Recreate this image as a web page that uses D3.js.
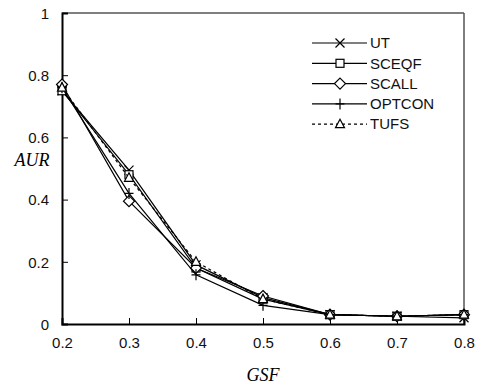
<!DOCTYPE html>
<html>
<head>
<meta charset="utf-8">
<script src="https://cdn.jsdelivr.net/npm/d3@7"></script>
<style>
  body { margin: 0; background: #fff; }
</style>
</head>
<body>
<div id="viz"></div>
<script>
// GSF values on the x axis
const gsf = [0.2, 0.3, 0.4, 0.5, 0.6, 0.7, 0.8];
const seriesNames = ["UT", "SCEQF", "SCALL", "OPTCON", "TUFS"];
const utValues     = [0.75, 0.495, 0.19, 0.085, 0.03, 0.025, 0.02];
const sceqfValues  = [0.75, 0.48, 0.18, 0.08, 0.03, 0.025, 0.03];
const scallValues  = [0.77, 0.395, 0.18, 0.09, 0.03, 0.025, 0.03];
const optconValues = [0.76, 0.42, 0.158, 0.06, 0.03, 0.025, 0.03];
const tufsValues   = [0.76, 0.47, 0.20, 0.08, 0.03, 0.025, 0.03];
const xTicks = [0.2, 0.3, 0.4, 0.5, 0.6, 0.7, 0.8];
const yTicks = [0, 0.2, 0.4, 0.6, 0.8, 1];

const allValues = [utValues, sceqfValues, scallValues, optconValues, tufsValues];
const markers = ["cross", "square", "diamond", "plus", "triangle"];

const sans = "'Liberation Sans', Arial, sans-serif";
const serif = "'Liberation Serif', 'Times New Roman', serif";

const width = 479, height = 387;
const margin = { left: 62, right: 15, top: 13, bottom: 63 };

const svg = d3.select("#viz").append("svg")
    .attr("width", width)
    .attr("height", height);

const x = d3.scaleLinear().domain([0.2, 0.8]).range([margin.left, width - margin.right]);
const y = d3.scaleLinear().domain([0, 1]).range([height - margin.bottom, margin.top]);

// frame: grey top/right, black left/bottom
svg.append("line").attr("x1", x(0.2)).attr("x2", x(0.8)).attr("y1", y(1)).attr("y2", y(1))
    .attr("stroke", "#555").attr("stroke-width", 1.5);
svg.append("line").attr("x1", x(0.8)).attr("x2", x(0.8)).attr("y1", y(1)).attr("y2", y(0))
    .attr("stroke", "#555").attr("stroke-width", 1.5);

const xAxis = svg.append("g")
    .attr("transform", `translate(0,${y(0)})`)
    .call(d3.axisBottom(x).tickValues(xTicks).tickSize(-6).tickPadding(13)
        .tickFormat(d3.format(".1f")));
const yAxis = svg.append("g")
    .attr("transform", `translate(${x(0.2)},0)`)
    .call(d3.axisLeft(y).tickValues(yTicks).tickSize(-6).tickPadding(13)
        .tickFormat(d => d === 0 || d === 1 ? d : d3.format(".1f")(d)));

[xAxis, yAxis].forEach(g => {
    g.select(".domain").attr("stroke", "#000").attr("stroke-width", 2);
    g.selectAll(".tick line").attr("stroke", "#000").attr("stroke-width", 1);
    g.selectAll(".tick text").attr("font-size", 15).attr("fill", "#111")
        .style("font-family", sans);
});
xAxis.selectAll(".tick text").attr("dy", "0.71em");
yAxis.selectAll(".tick text").attr("dy", "0.35em");

// axis titles
svg.append("text")
    .attr("x", 32).attr("y", 166)
    .attr("text-anchor", "middle")
    .style("font-family", serif)
    .style("font-style", "italic")
    .attr("font-size", 18)
    .text("AUR");
svg.append("text")
    .attr("x", 263).attr("y", 381)
    .attr("text-anchor", "middle")
    .style("font-family", serif)
    .style("font-style", "italic")
    .attr("font-size", 18)
    .text("GSF");

function drawMarker(g, type, cx, cy) {
    const s = 4.5;
    if (type === "cross") {
        g.append("path").attr("d", `M${cx - s},${cy - s}L${cx + s},${cy + s}M${cx - s},${cy + s}L${cx + s},${cy - s}`)
            .attr("stroke", "#000").attr("stroke-width", 1.2).attr("fill", "none");
    } else if (type === "square") {
        g.append("rect").attr("x", cx - 4).attr("y", cy - 4).attr("width", 8).attr("height", 8)
            .attr("stroke", "#000").attr("stroke-width", 1.2).attr("fill", "#fff");
    } else if (type === "diamond") {
        g.append("path").attr("d", `M${cx},${cy - 5.5}L${cx + 5.5},${cy}L${cx},${cy + 5.5}L${cx - 5.5},${cy}Z`)
            .attr("stroke", "#000").attr("stroke-width", 1.2).attr("fill", "#fff");
    } else if (type === "plus") {
        g.append("path").attr("d", `M${cx - s},${cy}L${cx + s},${cy}M${cx},${cy - s - 1}L${cx},${cy + s + 1}`)
            .attr("stroke", "#000").attr("stroke-width", 1.2).attr("fill", "none");
    } else if (type === "triangle") {
        g.append("path").attr("d", `M${cx},${cy - 5}L${cx + 4.5},${cy + 3.5}L${cx - 4.5},${cy + 3.5}Z`)
            .attr("stroke", "#000").attr("stroke-width", 1.2).attr("fill", "#fff");
    }
}

const line = d3.line().x((d, i) => x(gsf[i])).y(d => y(d));

seriesNames.forEach((name, si) => {
    const vals = allValues[si];
    const g = svg.append("g");
    g.append("path")
        .attr("d", line(vals))
        .attr("fill", "none")
        .attr("stroke", "#000")
        .attr("stroke-width", 1.2)
        .attr("stroke-dasharray", name === "TUFS" ? "3,3" : null);
    vals.forEach((v, i) => drawMarker(g, markers[si], x(gsf[i]), y(v)));
});

// legend
const legend = svg.append("g");
seriesNames.forEach((name, si) => {
    const ly = 43 + si * 20.3;
    legend.append("line")
        .attr("x1", 312).attr("x2", 367).attr("y1", ly).attr("y2", ly)
        .attr("stroke", "#000").attr("stroke-width", 1.2)
        .attr("stroke-dasharray", name === "TUFS" ? "3,3" : null);
    drawMarker(legend, markers[si], 340, ly);
    legend.append("text")
        .attr("x", 370).attr("y", ly).attr("dy", "0.35em")
        .attr("font-size", 15).attr("fill", "#111")
        .style("font-family", sans)
        .text(name);
});
</script>
</body>
</html>
